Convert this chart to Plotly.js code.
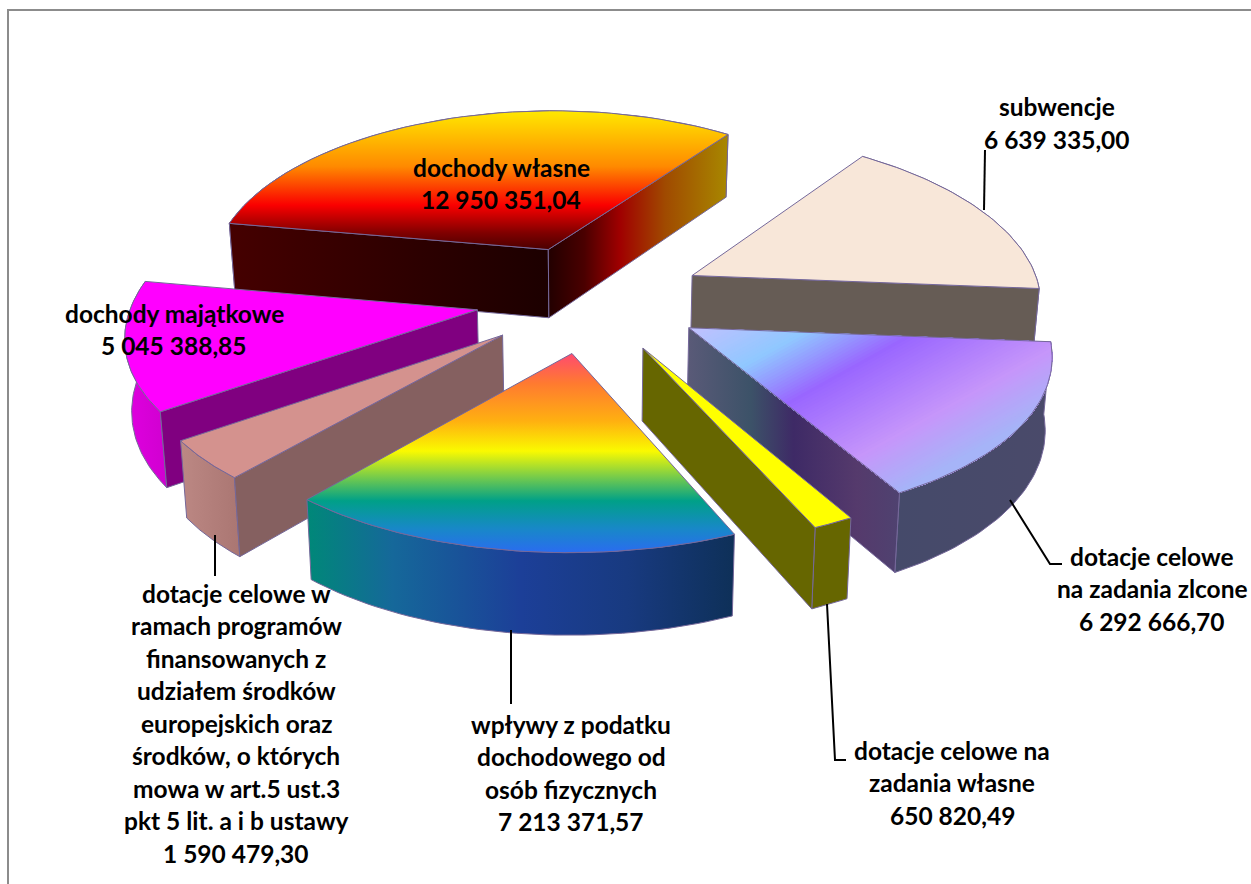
<!DOCTYPE html>
<html><head><meta charset="utf-8">
<script src="https://cdn.plot.ly/plotly-3.0.1.min.js"></script>
<style>html,body{margin:0;padding:0;background:#fff}#c{width:1251px;height:884px}</style>
</head><body><div id="c"></div>
<script>
// ---- data, clockwise from the slice boundary on the left of the pie
const categories = ["dochody własne","subwencje","dotacje celowe na zadania zlcone","dotacje celowe na zadania własne","wpływy z podatku dochodowego od osób fizycznych","dotacje celowe w ramach programów finansowanych z udziałem środków europejskich","dochody majątkowe"];
const values = [12950351.04,6639335.00,6292666.70,650820.49,7213371.57,1590479.30,5045388.85];
const labelLines = [
 ["dochody własne","12 950 351,04"],
 ["subwencje","6 639 335,00"],
 ["dotacje celowe","na zadania zlcone","6 292 666,70"],
 ["dotacje celowe na","zadania własne","650 820,49"],
 ["wpływy z podatku","dochodowego od","osób fizycznych","7 213 371,57"],
 ["dotacje celowe w","ramach programów","finansowanych z","udziałem środków","europejskich oraz","środków, o których","mowa w art.5 ust.3","pkt 5 lit. a i b ustawy","1 590 479,30"],
 ["dochody majątkowe","5 045 388,85"]
];
// ---- label placement: centre x, first line centre y, line step
const labelX = [501,1057,1152,952,571,236,174];
const labelY = [167,106,556,750,724,593,313];
const labelStep = [32,33,32.5,32.5,32.5,32.5,32];
// ---- styling
const topFill = [
 {v:[[0,"#4a0000"],[0.12,"#800000"],[0.32,"#fa0000"],[0.6,"#ff8a00"],[1,"#ffe800"]]},
 "#f8e7d9", null, "#ffff00",
 {v:[[0,"#2a6cf0"],[0.12,"#1888c8"],[0.26,"#00a088"],[0.37,"#6cc850"],[0.51,"#fafa00"],[0.66,"#ffb010"],[0.85,"#ff7a30"],[1,"#ff4a70"]]},
 "#d4928e", "#ff00ff"];
const arcFill = [
 "#300000","#665c55",{h:[[0,"#454a6a"],[1,"#4a4a6a"]]},"#666600",
 {h:[[0,"#008878"],[0.2,"#15689a"],[0.5,"#1c3f98"],[0.75,"#183a80"],[1,"#0e3058"]]},
 {h:[[0,"#bc8884"],[1,"#aa7672"]]},{h:[[0,"#e000e0"],[1,"#d000d0"]]}];
const wallFill = [
 {h:[[0,"#450000"],[0.6,"#2c0000"],[1,"#1c0000"]]},"#665c55",
 {h:[[0,"#5a5a78"],[0.3,"#3c5268"],[0.5,"#3e2a66"],[0.8,"#553a6c"],[1,"#4f4270"]]},"#666600",
 "#0e3058","#856060","#800080"];
const wallRight = {h:[[0,"#220000"],[0.2,"#4a0000"],[0.4,"#a00000"],[0.65,"#a04a00"],[1,"#a88800"]]};
const edge = "#75689a";
const leaderPaths = [
 [[985,150],[984,210]],
 [[1010,500],[1050,564],[1062,564]],
 [[827,604],[835,760],[846,760]],
 [[511,630],[511,704]],
 [[215,535],[215,576]]
];
// ---- projection of the exploded pie
const cx=590, cy=298, R=347, sR=164, perspX=0.13, perspY=0.11, skew=0.005, depth=70.5, taper=0.015, expl=0.33, a0=10, font="Lato, Carlito, 'Open Sans', sans-serif";
const total = values.reduce((a,b)=>a+b,0);
function proj(X,Y,z){const wx=1/(1-perspX*Y-skew*X), wy=1/(1-perspY*Y);return [cx+R*X*wx*(1-taper*z), cy+sR*Y*wy+depth*z*wy];}
function dir(a){const r=a*Math.PI/180;return [-Math.cos(r),-Math.sin(r)];}
function scatterTrace(pts,fill,name){
  const t={type:"scatter",mode:"lines",x:pts.map(p=>p[0]),y:pts.map(p=>p[1]),fill:"toself",hoverinfo:"skip",showlegend:false,name:name||"",
           line:{color:edge,width:1}};
  if(typeof fill==="string") t.fillcolor=fill;
  else if(fill&&fill.h) t.fillgradient={type:"horizontal",colorscale:fill.h};
  else if(fill&&fill.v) t.fillgradient={type:"vertical",colorscale:fill.v};
  return t;
}
function area(p){let s=0;for(let i=0;i<p.length;i++){const a=p[i],b=p[(i+1)%p.length];s+=a[0]*b[1]-b[0]*a[1];}return s/2;}
function hexMix(a,b,t){const pa=[1,3,5].map(i=>parseInt(a.substr(i,2),16)),pb=[1,3,5].map(i=>parseInt(b.substr(i,2),16));
  return "rgb("+pa.map((v,i)=>Math.round(v+(pb[i]-v)*t)).join(",")+")";}
// diagonal colour bands of the zlecone slice: painted as successive half-plane clips
const diagStops=[[620,"#c4c0ff"],[681,"#90c8ff"],[735,"#9966ff"],[817,"#c696fa"],[868,"#a6b4f8"]];
const nx=0.486, ny=0.874;
function clipHalf(poly,t0){const out=[];const f=p=>p[0]*nx+p[1]*ny-t0;
  for(let i=0;i<poly.length;i++){const a=poly[i],b=poly[(i+1)%poly.length],fa=f(a),fb=f(b);
    if(fa>=0)out.push(a);
    if((fa>=0)!==(fb>=0)){const u=fa/(fa-fb);out.push([a[0]+(b[0]-a[0])*u,a[1]+(b[1]-a[1])*u]);}}
  return out;}
function diagColor(t){for(let i=1;i<diagStops.length;i++){if(t<=diagStops[i][0]){const A=diagStops[i-1],B=diagStops[i];return hexMix(A[1],B[1],(t-A[0])/(B[0]-A[0]));}}return diagStops[diagStops.length-1][1];}

let ang=a0;
const slices=values.map((v,i)=>{const sweep=v/total*360,s={i,start:ang,end:ang+sweep};ang+=sweep;
  const m=dir((s.start+s.end)/2);s.ox=expl*m[0];s.oy=expl*m[1];return s;});
const traces=[];
slices.slice().sort((a,b)=>a.oy-b.oy).forEach(s=>{
  const n=48,arc=[];
  for(let k=0;k<=n;k++){const d=dir(s.start+(s.end-s.start)*k/n);arc.push([s.ox+d[0],s.oy+d[1]]);}
  const P=(q,z)=>proj(q[0],q[1],z), apex=[s.ox,s.oy];
  const arcTop=arc.map(q=>P(q,0)), arcBot=arc.map(q=>P(q,1)).reverse();
  traces.push(scatterTrace(arcTop.concat(arcBot,[arcTop[0]]),arcFill[s.i],categories[s.i]));
  const e1=arc[0],e2=arc[n];
  const w1=[P(apex,0),P(e1,0),P(e1,1),P(apex,1),P(apex,0)];
  const w2=[P(e2,0),P(apex,0),P(apex,1),P(e2,1),P(e2,0)];
  if(area(w1.slice(0,4))<0) traces.push(scatterTrace(w1,wallFill[s.i]));
  if(area(w2.slice(0,4))<0) traces.push(scatterTrace(w2,s.i===0?wallRight:wallFill[s.i]));
  const top=[P(apex,0)].concat(arcTop,[P(apex,0)]);
  if(topFill[s.i]===null){
    const poly=top.slice(0,-1);
    for(let t=diagStops[0][0];t<diagStops[diagStops.length-1][0];t+=3){
      const c=clipHalf(poly,t); if(c.length<3) continue; c.push(c[0]);
      const tr=scatterTrace(c,diagColor(t+1.5)); tr.mode="none"; delete tr.line; traces.push(tr);
    }
    const o=scatterTrace(top,"rgba(0,0,0,0)"); o.fill="none"; traces.push(o);
  } else traces.push(scatterTrace(top,topFill[s.i],categories[s.i]));
});
const annotations=[];
labelLines.forEach((ls,i)=>ls.forEach((txt,j)=>annotations.push({x:labelX[i],y:labelY[i]+j*labelStep[i],xref:"x",yref:"y",text:"<b>"+txt+"</b>",showarrow:false,xanchor:"center",yanchor:"middle",font:{family:font,size:24.5,color:"#000"}})));
const shapes=leaderPaths.map(p=>({type:"path",xref:"x",yref:"y",path:p.map((q,i)=>(i?"L":"M")+q[0]+","+q[1]).join(" "),line:{color:"#000",width:2}}));
shapes.push({type:"path",xref:"x",yref:"y",path:"M8,884 L8,10 L1251,10",line:{color:"#8c8c8c",width:2},layer:"below"});
const hidden={visible:false,fixedrange:true,showgrid:false,zeroline:false};
Plotly.newPlot("c",traces,{width:1251,height:884,margin:{l:0,r:0,t:0,b:0},paper_bgcolor:"#fff",plot_bgcolor:"#fff",showlegend:false,
  xaxis:Object.assign({range:[0,1251]},hidden),yaxis:Object.assign({range:[884,0]},hidden),annotations,shapes},{displayModeBar:false,staticPlot:true});
</script></body></html>
